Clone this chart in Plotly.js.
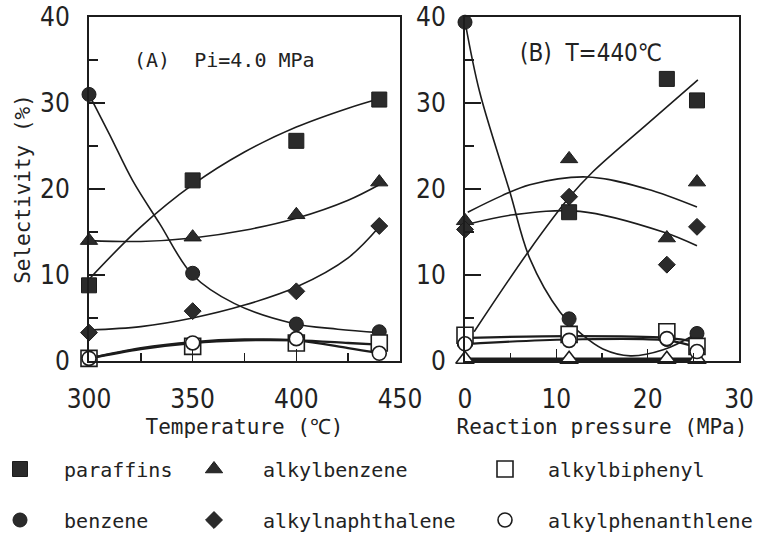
<!DOCTYPE html>
<html>
<head>
<meta charset="utf-8">
<script src="https://cdn.plot.ly/plotly-3.0.1.min.js"></script>
<style>html,body{margin:0;padding:0;background:#fff;}#chart{width:763px;height:542px;}</style>
</head>
<body>
<div id="chart"></div>
<script>
// ---------- Panel A: temperature (°C) at Pi = 4.0 MPa ----------
const tempA = [300, 350, 400, 440];
const paraffinsA = [8.8, 21.0, 25.6, 30.4];
const alkylbenzeneA = [14.0, 14.4, 17.0, 20.8];
const alkylbiphenylA = [0.3, 1.7, 2.1, 2.1];
const benzeneA = [31.0, 10.2, 4.3, 3.4];
const alkylnaphthaleneA = [3.3, 5.8, 8.1, 15.7];
const alkylphenanthleneA = [0.3, 2.1, 2.6, 0.9];

// fitted curves (panel A)
const fitTempA = [300, 325, 350, 375, 400, 425, 440];
const paraffinsFitA = [9.5, 15.6, 20.5, 24.3, 27.2, 29.4, 30.5];
const alkylbenzeneFitA = [14.0, 13.9, 14.3, 15.2, 16.6, 18.7, 20.5];
const alkylnaphthaleneFitA = [3.6, 4.0, 5.0, 6.5, 8.6, 12.0, 15.6];
const alkylbiphenylFitA = [0.3, 1.4, 2.1, 2.4, 2.4, 2.1, 1.9];
const alkylphenanthleneFitA = [0.3, 1.5, 2.2, 2.5, 2.4, 1.5, 0.9];
const benzeneFitTempA = [300, 310, 321, 334, 350, 370, 398, 420, 440];
const benzeneFitA = [31.0, 26.3, 21.0, 16.0, 10.0, 6.7, 4.4, 3.7, 3.3];

// ---------- Panel B: reaction pressure (MPa) at T = 440 °C ----------
const pressB = [0, 11.4, 22.1, 25.4];
const paraffinsB = [2.6, 17.3, 32.8, 30.3];
const alkylbenzeneB = [16.3, 23.5, 14.3, 20.8];
const alkylbiphenylB = [3.0, 3.1, 3.4, 1.7];
const benzeneB = [39.4, 4.9, 2.5, 3.2];
const alkylnaphthaleneB = [15.3, 19.1, 11.2, 15.6];
const alkylphenanthleneB = [2.0, 2.4, 2.6, 1.1];
const unlabeledB = [0.2, 0.2, 0.2, 0.2];

// fitted curves (panel B)
const paraffinsFitPB = [1, 7, 11.4, 14, 20, 25.5];
const paraffinsFitB = [3.4, 12.8, 19.0, 22.0, 27.6, 32.7];
const alkylbenzeneFitPB = [0.3, 4, 7.1, 13.4, 19.9, 25.4];
const alkylbenzeneFitB = [17.3, 19.2, 20.5, 21.4, 20.0, 17.9];
const alkylnaphthaleneFitPB = [0.3, 5.3, 12.6, 21.7, 25.4];
const alkylnaphthaleneFitB = [15.9, 17.0, 17.4, 15.0, 13.4];
const benzeneFitPB = [0, 1.6, 4.9, 7.1, 10.4, 12.9, 15.1, 18.1, 21.7, 25.4];
const benzeneFitB = [39.5, 31.3, 19.7, 11.9, 5.7, 3.0, 1.4, 0.6, 1.3, 3.2];
const openFitPB = [0.5, 11.4, 22.1, 25.4];
const alkylbiphenylFitB = [2.7, 2.9, 2.7, 2.2];
const alkylphenanthleneFitB = [2.0, 2.5, 2.4, 1.6];

// ---------- tick labels ----------
const xTicksA = [300, 350, 400, 450];
const xTicksB = [0, 10, 20, 30];
const yTicks = [0, 10, 20, 30, 40];

const INK = '#1c1c1c';
const FILL = '#2b2b2b';
const monoFont = 'DejaVu Sans Mono, Liberation Mono, monospace';
const tickFont = 'Liberation Sans Narrow, DejaVu Sans Condensed, Arial Narrow, sans-serif';
const NB = '\u00a0';

function fit(x, y, xa, ya, w) {
  return {x: x, y: y, xaxis: xa, yaxis: ya, type: 'scatter', mode: 'lines',
    line: {color: INK, width: w || 1.6, shape: 'spline', smoothing: 1},
    hoverinfo: 'skip', showlegend: false, cliponaxis: false};
}
function pts(name, x, y, xa, ya, sym, size, filled, legendId) {
  const t = {name: name, x: x, y: y, xaxis: xa, yaxis: ya, type: 'scatter', mode: 'markers',
    marker: {symbol: sym, size: size, color: filled ? FILL : '#ffffff',
      line: {color: INK, width: filled ? 1 : 1.6}},
    cliponaxis: false, showlegend: !!legendId};
  if (legendId) t.legend = legendId;
  return t;
}

const traces = [
  // Panel A curves
  fit(fitTempA, paraffinsFitA, 'x', 'y'),
  fit(fitTempA, alkylbenzeneFitA, 'x', 'y'),
  fit(fitTempA, alkylnaphthaleneFitA, 'x', 'y'),
  fit(fitTempA, alkylbiphenylFitA, 'x', 'y', 2.4),
  fit(fitTempA, alkylphenanthleneFitA, 'x', 'y', 2.4),
  fit(benzeneFitTempA, benzeneFitA, 'x', 'y'),
  // Panel B curves
  fit(paraffinsFitPB, paraffinsFitB, 'x2', 'y2'),
  fit(alkylbenzeneFitPB, alkylbenzeneFitB, 'x2', 'y2'),
  fit(alkylnaphthaleneFitPB, alkylnaphthaleneFitB, 'x2', 'y2'),
  fit(benzeneFitPB, benzeneFitB, 'x2', 'y2'),
  fit(openFitPB, alkylbiphenylFitB, 'x2', 'y2', 2.2),
  fit(openFitPB, alkylphenanthleneFitB, 'x2', 'y2', 2.2),
  {x: pressB, y: unlabeledB, xaxis: 'x2', yaxis: 'y2', type: 'scatter', mode: 'lines',
   line: {color: INK, width: 3.5}, hoverinfo: 'skip', showlegend: false, cliponaxis: false},

  // Panel A markers (these also feed the legend)
  pts(NB + NB + 'paraffins', tempA, paraffinsA, 'x', 'y', 'square', 15, true, 'legend'),
  pts('alkylbenzene', tempA, alkylbenzeneA, 'x', 'y', 'triangle-up', 15, true, 'legend2'),
  pts(NB + NB + 'benzene', tempA, benzeneA, 'x', 'y', 'circle', 14, true, 'legend4'),
  pts('alkylnaphthalene', tempA, alkylnaphthaleneA, 'x', 'y', 'diamond', 13, true, 'legend5'),
  pts('alkylbiphenyl', tempA, alkylbiphenylA, 'x', 'y', 'square', 16, false, 'legend3'),
  pts('alkylphenanthlene', tempA, alkylphenanthleneA, 'x', 'y', 'circle', 14, false, 'legend6'),

  // Panel B markers
  pts('paraffins', pressB, paraffinsB, 'x2', 'y2', 'square', 15, true),
  pts('alkylbenzene', pressB, alkylbenzeneB, 'x2', 'y2', 'triangle-up', 15, true),
  pts('alkylnaphthalene', pressB, alkylnaphthaleneB, 'x2', 'y2', 'diamond', 13, true),
  pts('benzene', pressB, benzeneB, 'x2', 'y2', 'circle', 14, true),
  pts('unlabeled', pressB, unlabeledB, 'x2', 'y2', 'triangle-up', 16, false),
  pts('alkylbiphenyl', pressB, alkylbiphenylB, 'x2', 'y2', 'square', 16, false),
  pts('alkylphenanthlene', pressB, alkylphenanthleneB, 'x2', 'y2', 'circle', 14, false)
];

const W = 763, H = 542;
const px = v => v / W;
const py = v => 1 - v / H;

function xAxis(domain, range, ticks, anchor) {
  return {domain: domain, range: range, anchor: anchor, tickvals: ticks, ticktext: ticks.map(String),
    ticks: 'inside', ticklen: 12, tickwidth: 1.5, tickcolor: INK,
    minor: {ticks: 'inside', ticklen: 8, tickwidth: 1.5, tickcolor: INK, dtick: (range[1]-range[0])/6, tick0: range[0]},
    showline: true, mirror: true, linewidth: 2, linecolor: INK, showgrid: false, zeroline: false, automargin: false,
    ticklabelstandoff: 14, tickfont: {family: tickFont, size: 26, color: '#222'}, fixedrange: true};
}
function yAxis(domain, anchor) {
  return {domain: domain, range: [0, 40], anchor: anchor, tickvals: yTicks, ticktext: yTicks.map(String),
    ticks: 'inside', ticklen: 16, tickwidth: 1.5, tickcolor: INK,
    minor: {ticks: 'inside', ticklen: 9, tickwidth: 1.5, tickcolor: INK, dtick: 5, tick0: 0},
    showline: true, mirror: true, linewidth: 2, linecolor: INK, showgrid: false, zeroline: false, automargin: false,
    ticklabelstandoff: 12, tickfont: {family: tickFont, size: 26, color: '#222'}, fixedrange: true};
}

const yDom = [py(361), py(17)];
const xa = xAxis([px(89), px(400)], [300, 450], xTicksA, 'y');
xa.title = {text: 'Temperature (℃)', font: {family: monoFont, size: 21, color: '#222'}, standoff: 6};
const xb = xAxis([px(465), px(739)], [0, 30], xTicksB, 'y2');
xb.title = {text: 'Reaction pressure (MPa)', font: {family: monoFont, size: 21, color: '#222'}, standoff: 6};
const ya = yAxis(yDom, 'x');
ya.title = {text: 'Selectivity (%)', font: {family: monoFont, size: 21, color: '#222'}, standoff: 4};
const yb = yAxis(yDom, 'x2');

function leg(xl, yc, iw) {
  return {x: px(xl), y: py(yc), xanchor: 'left', yanchor: 'middle', orientation: 'h',
    bgcolor: 'rgba(0,0,0,0)', borderwidth: 0, itemwidth: iw, itemclick: false, itemdoubleclick: false,
    font: {family: monoFont, size: 20, color: '#222'}};
}

const layout = {
  width: W, height: H, margin: {l: 0, r: 0, t: 0, b: 0, autoexpand: false},
  paper_bgcolor: '#ffffff', plot_bgcolor: '#ffffff',
  xaxis: xa, yaxis: ya, xaxis2: xb, yaxis2: yb,
  legend: leg(0, 469, 30),
  legend2: leg(165, 469, 88),
  legend3: leg(462, 469, 76),
  legend4: leg(0, 520, 30),
  legend5: leg(165, 520, 88),
  legend6: leg(462, 520, 76),
  annotations: [
    {xref: 'paper', yref: 'paper', x: px(132), y: py(60), xanchor: 'left', yanchor: 'middle', showarrow: false,
     text: '(A)' + NB + NB + 'Pi=4.0 MPa', font: {family: monoFont, size: 20, color: '#222'}},
    {xref: 'paper', yref: 'paper', x: px(518), y: py(53), xanchor: 'left', yanchor: 'middle', showarrow: false,
     text: '(B)' + NB + NB + 'T=440℃', font: {family: tickFont, size: 24, color: '#222'}}
  ],
  showlegend: true
};

Plotly.newPlot('chart', traces, layout, {staticPlot: true, displayModeBar: false});
</script>
</body>
</html>
